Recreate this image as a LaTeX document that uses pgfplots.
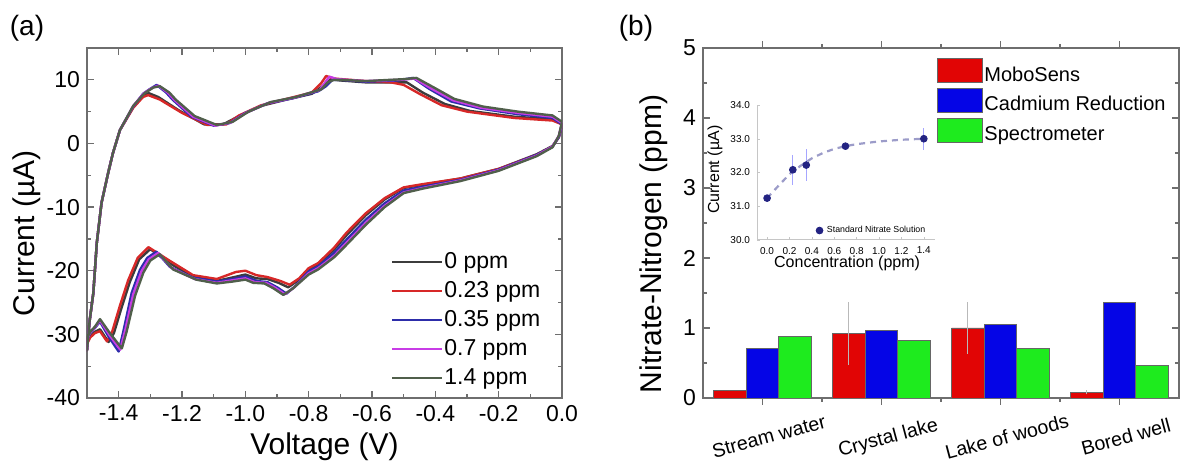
\documentclass[border=0pt]{standalone}
\usepackage{fontspec}
\setmainfont{Liberation Sans}
\usepackage{pgfplots}
\pgfplotsset{compat=1.18}
\definecolor{czero}{RGB}{60,60,60}
\definecolor{cone}{RGB}{215,40,40}
\definecolor{ctwo}{RGB}{45,45,170}
\definecolor{cthree}{RGB}{200,60,230}
\definecolor{cfour}{RGB}{80,95,75}
\definecolor{barred}{RGB}{225,5,5}
\definecolor{barblue}{RGB}{5,5,230}
\definecolor{bargreen}{RGB}{30,235,30}
\definecolor{axgray}{RGB}{110,110,110}
\definecolor{inkblue}{RGB}{35,35,130}
\newcommand{\fs}[1]{\fontsize{#1}{#1}\selectfont}

\pgfplotsset{
  panel/.style={
    scale only axis, anchor=south west,
    axis line style={axgray, line width=0.6pt},
    tick style={axgray, line width=0.6pt},
    tick align=inside,
    major tick length=3.5pt, minor tick length=2pt,
    /pgf/number format/assume math mode=true,
  },
}

\begin{document}
\begin{tikzpicture}
\useasboundingbox (0pt,0pt) rectangle (591pt,234.5pt);
\node[font=\fs{14}] at (13.5pt,220.5pt) {(a)};
\node[font=\fs{14}] at (318pt,220.5pt) {(b)};

% ---------- (a) cyclic voltammetry ----------
\begin{axis}[panel,
  at={(43.5pt,35.5pt)}, width=237.5pt, height=175pt,
  xmin=-1.5, xmax=0, ymin=-40, ymax=15,
  xtick={-1.4,-1.2,-1.0,-0.8,-0.6,-0.4,-0.2,0.0},
  ytick={-40,-30,-20,-10,0,10},
  minor x tick num=1, minor y tick num=1,
  xticklabel style={/pgf/number format/.cd, fixed, precision=1, fixed zerofill},
  tick label style={font=\fs{11.5}},
  xlabel={Voltage (V)}, ylabel={Current (µA)},
  label style={font=\fs{15}},
  xlabel style={at={(axis description cs:0.5,-0.14)}, anchor=center},
  ylabel style={at={(axis description cs:-0.126,0.47)}, anchor=center, rotate=0},
  legend style={draw=none, fill=none, at={(axis description cs:0.64,0.425)}, anchor=north west,
    font=\fs{11.5}, inner sep=0pt, row sep=2pt,
    nodes={inner sep=0.5pt, text height=9pt, text depth=2.5pt}},
  legend image code/.code={\draw[#1, line width=1pt] (0pt,0pt) -- (25pt,0pt);},
  legend cell align=left,
  every axis plot/.append style={line width=1.2pt, line join=round},
]
\addplot[czero] coordinates {
(0.000,3.0) (-0.010,1.0) (-0.030,-0.4) (-0.080,-1.7) (-0.200,-4.0) (-0.320,-5.5) (-0.440,-6.5) (-0.500,-7.0) (-0.560,-8.8) (-0.620,-11.3) (-0.680,-14.4) (-0.720,-16.7) (-0.770,-19.0) (-0.800,-19.8) (-0.835,-21.6) (-0.865,-22.6) (-0.895,-21.9) (-0.930,-21.3) (-0.965,-21.2) (-1.000,-20.6) (-1.035,-21.0) (-1.090,-21.6) (-1.165,-20.9) (-1.240,-18.8) (-1.300,-16.6) (-1.335,-18.2) (-1.365,-21.8) (-1.392,-26.0) (-1.415,-29.8) (-1.432,-31.2) (-1.459,-29.2) (-1.475,-29.6) (-1.490,-30.3) (-1.500,-31.2)
(-1.500,-32.5) (-1.492,-28.0) (-1.480,-23.5) (-1.469,-15.6) (-1.454,-9.3) (-1.433,-4.6) (-1.418,-1.5) (-1.396,2.1) (-1.354,5.7) (-1.323,7.5) (-1.305,7.9) (-1.275,7.3) (-1.210,5.2) (-1.130,3.0) (-1.070,3.0) (-1.020,4.3) (-0.950,5.9) (-0.870,6.9) (-0.790,7.8) (-0.750,9.2) (-0.730,10.1) (-0.700,9.9) (-0.620,9.6) (-0.530,9.6) (-0.490,9.6) (-0.440,8.0) (-0.370,6.2) (-0.290,5.1) (-0.150,4.2) (-0.030,3.8) (0.000,3.0)
};
\addlegendentry{0 ppm}
\addplot[cone] coordinates {
(0.000,3.0) (-0.010,1.0) (-0.030,-0.5) (-0.080,-1.8) (-0.200,-4.0) (-0.320,-5.5) (-0.440,-6.4) (-0.500,-6.9) (-0.560,-8.6) (-0.620,-11.0) (-0.680,-14.0) (-0.720,-16.4) (-0.770,-18.8) (-0.800,-19.6) (-0.830,-21.2) (-0.860,-22.2) (-0.890,-21.6) (-0.930,-21.0) (-0.965,-20.7) (-1.000,-20.0) (-1.030,-20.2) (-1.090,-21.3) (-1.165,-20.7) (-1.240,-18.4) (-1.306,-16.3) (-1.340,-18.0) (-1.370,-21.5) (-1.396,-25.5) (-1.420,-29.5) (-1.437,-31.1) (-1.459,-29.5) (-1.475,-29.8) (-1.490,-30.5) (-1.500,-31.5)
(-1.500,-32.5) (-1.492,-28.0) (-1.480,-23.5) (-1.469,-15.6) (-1.454,-9.3) (-1.433,-4.6) (-1.418,-1.5) (-1.396,2.1) (-1.354,5.6) (-1.323,7.3) (-1.307,7.6) (-1.270,6.9) (-1.200,4.8) (-1.120,2.9) (-1.060,3.0) (-1.020,4.4) (-0.950,6.0) (-0.870,7.0) (-0.790,8.0) (-0.760,9.5) (-0.745,10.6) (-0.720,10.2) (-0.620,9.8) (-0.540,9.6) (-0.500,9.2) (-0.450,7.8) (-0.380,6.0) (-0.300,5.0) (-0.150,4.0) (-0.030,3.6) (0.000,3.0)
};
\addlegendentry{0.23 ppm}
\addplot[ctwo] coordinates {
(0.000,3.0) (-0.010,1.0) (-0.030,-0.5) (-0.080,-1.8) (-0.200,-4.1) (-0.320,-5.7) (-0.440,-6.8) (-0.500,-7.4) (-0.560,-9.4) (-0.620,-12.0) (-0.680,-15.1) (-0.720,-17.2) (-0.770,-19.3) (-0.800,-20.1) (-0.840,-22.3) (-0.870,-23.6) (-0.900,-22.6) (-0.930,-21.8) (-0.965,-21.6) (-1.000,-20.9) (-1.040,-21.3) (-1.090,-21.7) (-1.165,-21.1) (-1.238,-19.4) (-1.281,-17.0) (-1.310,-18.0) (-1.333,-19.9) (-1.359,-23.5) (-1.385,-29.5) (-1.400,-32.7) (-1.430,-30.5) (-1.459,-28.0) (-1.475,-29.0) (-1.490,-29.8) (-1.500,-31.0)
(-1.500,-32.5) (-1.492,-28.0) (-1.480,-23.5) (-1.469,-15.6) (-1.454,-9.3) (-1.433,-4.6) (-1.418,-1.5) (-1.396,2.1) (-1.354,5.8) (-1.323,7.8) (-1.300,8.6) (-1.280,9.2) (-1.250,8.0) (-1.230,6.9) (-1.170,4.2) (-1.100,2.8) (-1.050,3.2) (-1.000,4.8) (-0.930,6.3) (-0.850,7.1) (-0.770,8.2) (-0.745,9.0) (-0.725,10.0) (-0.700,10.0) (-0.620,9.7) (-0.520,9.9) (-0.470,10.3) (-0.420,8.6) (-0.350,6.6) (-0.260,5.5) (-0.140,4.6) (-0.030,4.0) (0.000,3.0)
};
\addlegendentry{0.35 ppm}
\addplot[cthree] coordinates {
(0.000,3.2) (-0.010,1.2) (-0.030,-0.5) (-0.080,-1.9) (-0.200,-4.2) (-0.320,-5.8) (-0.440,-7.0) (-0.500,-7.7) (-0.560,-9.8) (-0.620,-12.5) (-0.680,-15.6) (-0.720,-17.7) (-0.770,-19.6) (-0.800,-20.4) (-0.845,-22.6) (-0.875,-23.7) (-0.905,-22.7) (-0.935,-21.9) (-0.970,-21.8) (-1.000,-21.2) (-1.040,-21.5) (-1.090,-21.9) (-1.160,-21.3) (-1.232,-19.6) (-1.275,-17.2) (-1.305,-18.2) (-1.328,-20.1) (-1.354,-23.7) (-1.380,-29.5) (-1.395,-32.4) (-1.428,-30.2) (-1.459,-27.8) (-1.475,-28.9) (-1.490,-29.7) (-1.500,-30.8)
(-1.500,-32.5) (-1.492,-28.0) (-1.480,-23.5) (-1.469,-15.6) (-1.454,-9.3) (-1.433,-4.6) (-1.418,-1.5) (-1.396,2.1) (-1.354,5.9) (-1.320,7.9) (-1.295,8.7) (-1.275,9.1) (-1.245,8.0) (-1.225,6.9) (-1.165,4.2) (-1.095,2.8) (-1.045,3.3) (-0.995,4.9) (-0.925,6.4) (-0.845,7.2) (-0.765,8.4) (-0.745,9.8) (-0.735,10.5) (-0.710,10.1) (-0.620,9.8) (-0.510,10.0) (-0.465,10.2) (-0.415,8.7) (-0.345,6.8) (-0.255,5.6) (-0.140,4.8) (-0.030,4.2) (0.000,3.2)
};
\addlegendentry{0.7 ppm}
\addplot[cfour] coordinates {
(0.000,3.4) (-0.010,1.2) (-0.030,-0.6) (-0.080,-2.0) (-0.200,-4.3) (-0.320,-5.9) (-0.440,-7.1) (-0.500,-7.8) (-0.560,-10.0) (-0.620,-12.8) (-0.680,-15.9) (-0.720,-17.9) (-0.770,-19.8) (-0.800,-20.6) (-0.850,-22.8) (-0.880,-23.8) (-0.910,-22.8) (-0.940,-22.0) (-0.975,-21.9) (-1.000,-21.4) (-1.040,-21.7) (-1.090,-22.0) (-1.155,-21.4) (-1.228,-19.8) (-1.270,-17.4) (-1.300,-18.4) (-1.322,-20.3) (-1.348,-23.9) (-1.375,-29.6) (-1.390,-32.2) (-1.425,-30.0) (-1.459,-27.6) (-1.475,-28.8) (-1.490,-29.6) (-1.500,-30.6)
(-1.500,-32.5) (-1.492,-28.0) (-1.480,-23.5) (-1.469,-15.6) (-1.454,-9.3) (-1.433,-4.6) (-1.418,-1.5) (-1.396,2.1) (-1.354,5.9) (-1.318,7.9) (-1.290,8.8) (-1.270,9.0) (-1.240,8.0) (-1.220,6.9) (-1.160,4.3) (-1.090,2.9) (-1.040,3.4) (-0.990,5.0) (-0.920,6.5) (-0.840,7.3) (-0.760,8.5) (-0.740,9.6) (-0.720,10.0) (-0.700,10.0) (-0.620,9.8) (-0.500,10.1) (-0.460,10.3) (-0.405,8.8) (-0.340,7.0) (-0.250,5.8) (-0.140,5.0) (-0.030,4.4) (0.000,3.4)
};
\addlegendentry{1.4 ppm}
\end{axis}

% ---------- (b) bar chart ----------
\begin{axis}[panel,
  at={(351.5pt,35.5pt)}, width=238pt, height=175pt,
  xmin=0.5, xmax=4.5, ymin=0, ymax=5,
  xtick={1,2,3,4}, ytick={0,1,2,3,4,5},
  xticklabels={Stream water, Crystal lake, Lake of woods, Bored well},
  minor x tick num=1, minor y tick num=1,
  tick label style={font=\fs{11.5}},
  xticklabel style={font=\fs{9.8}, rotate=15, anchor=north, yshift=-9pt, xshift=-1pt},
  ylabel={Nitrate-Nitrogen (ppm)},
  ylabel style={font=\fs{15}, at={(axis description cs:-0.103,0.44)}, anchor=center},
  ybar, bar width=0.274,
  legend image code/.code={\draw[#1] (0pt,-3.5pt) rectangle (22.5pt,8.5pt);},
  legend style={draw=none, fill=none, at={(axis description cs:0.49,0.972)}, anchor=north west,
    font=\fs{10}, inner sep=0pt, row sep=0pt,
    nodes={inner sep=1pt, text height=8pt, text depth=2.5pt}},
  legend cell align=left,
]
\addplot[fill=barred, draw=black!60, line width=0.4pt, bar shift=-0.274,
  error bars/.cd, y dir=both, y explicit,
  error bar style={gray!55, line width=0.5pt}, error mark=none]
  coordinates {(1,0.11) +- (0,0.0) (2,0.92) +- (0,0.45) (3,1.00) +- (0,0.37) (4,0.08) +- (0,0.03)};
\addlegendentry{MoboSens}
\addplot[fill=barblue, draw=black!60, line width=0.4pt, bar shift=0]
  coordinates {(1,0.71) (2,0.96) (3,1.05) (4,1.37)};
\addlegendentry{Cadmium Reduction}
\addplot[fill=bargreen, draw=black!60, line width=0.4pt, bar shift=0.274]
  coordinates {(1,0.88) (2,0.82) (3,0.71) (4,0.47)};
\addlegendentry{Spectrometer}
\end{axis}

% ---------- inset ----------
\begin{axis}[scale only axis, anchor=south west,
  at={(378.5pt,114.5pt)}, width=89pt, height=67.5pt,
  xmin=-0.09, xmax=1.5, ymin=30, ymax=34,
  axis x line*=bottom, axis y line*=left,
  axis line style={gray!45, line width=0.5pt, -},
  tick style={gray!45}, major tick length=1.5pt,
  xtick={0,0.2,...,1.4}, ytick={30,31,32,33,34},
  /pgf/number format/assume math mode=true,
  tick label style={font=\fs{5}, /pgf/number format/.cd, fixed, precision=1, fixed zerofill},
  xlabel={Concentration (ppm)}, ylabel={Current (µA)},
  label style={font=\fs{8}},
  xlabel style={at={(axis description cs:0.506,-0.17)}, anchor=center},
  ylabel style={at={(axis description cs:-0.236,0.52)}, anchor=center},
  legend style={draw=none, fill=none, at={(axis description cs:0.33,0.07)}, anchor=west,
    font=\fs{4.4}, inner sep=0pt},
  legend image code/.code={\draw[#1] plot coordinates {(3pt,0pt)};},
]
\addplot[gray!70!blue!60, line width=1.1pt, dash pattern=on 3pt off 2.5pt, forget plot]
  coordinates {(0,31.24) (0.1,31.6) (0.2,31.95) (0.3,32.2) (0.4,32.42) (0.5,32.58) (0.6,32.7) (0.7,32.78) (0.8,32.84) (0.9,32.88) (1.0,32.92) (1.2,32.97) (1.4,33.0)};
\addplot[only marks, mark=*, mark size=1.7pt, inkblue,
  error bars/.cd, y dir=both, y explicit,
  error bar style={blue!35, line width=0.5pt}, error mark=none]
  coordinates {(0,31.24) +- (0,0.1) (0.23,32.08) +- (0,0.45) (0.35,32.22) +- (0,0.48) (0.70,32.78) +- (0,0.06) (1.40,33.0) +- (0,0.33)};
\addlegendentry{Standard Nitrate Solution}
\end{axis}
\end{tikzpicture}
\end{document}
